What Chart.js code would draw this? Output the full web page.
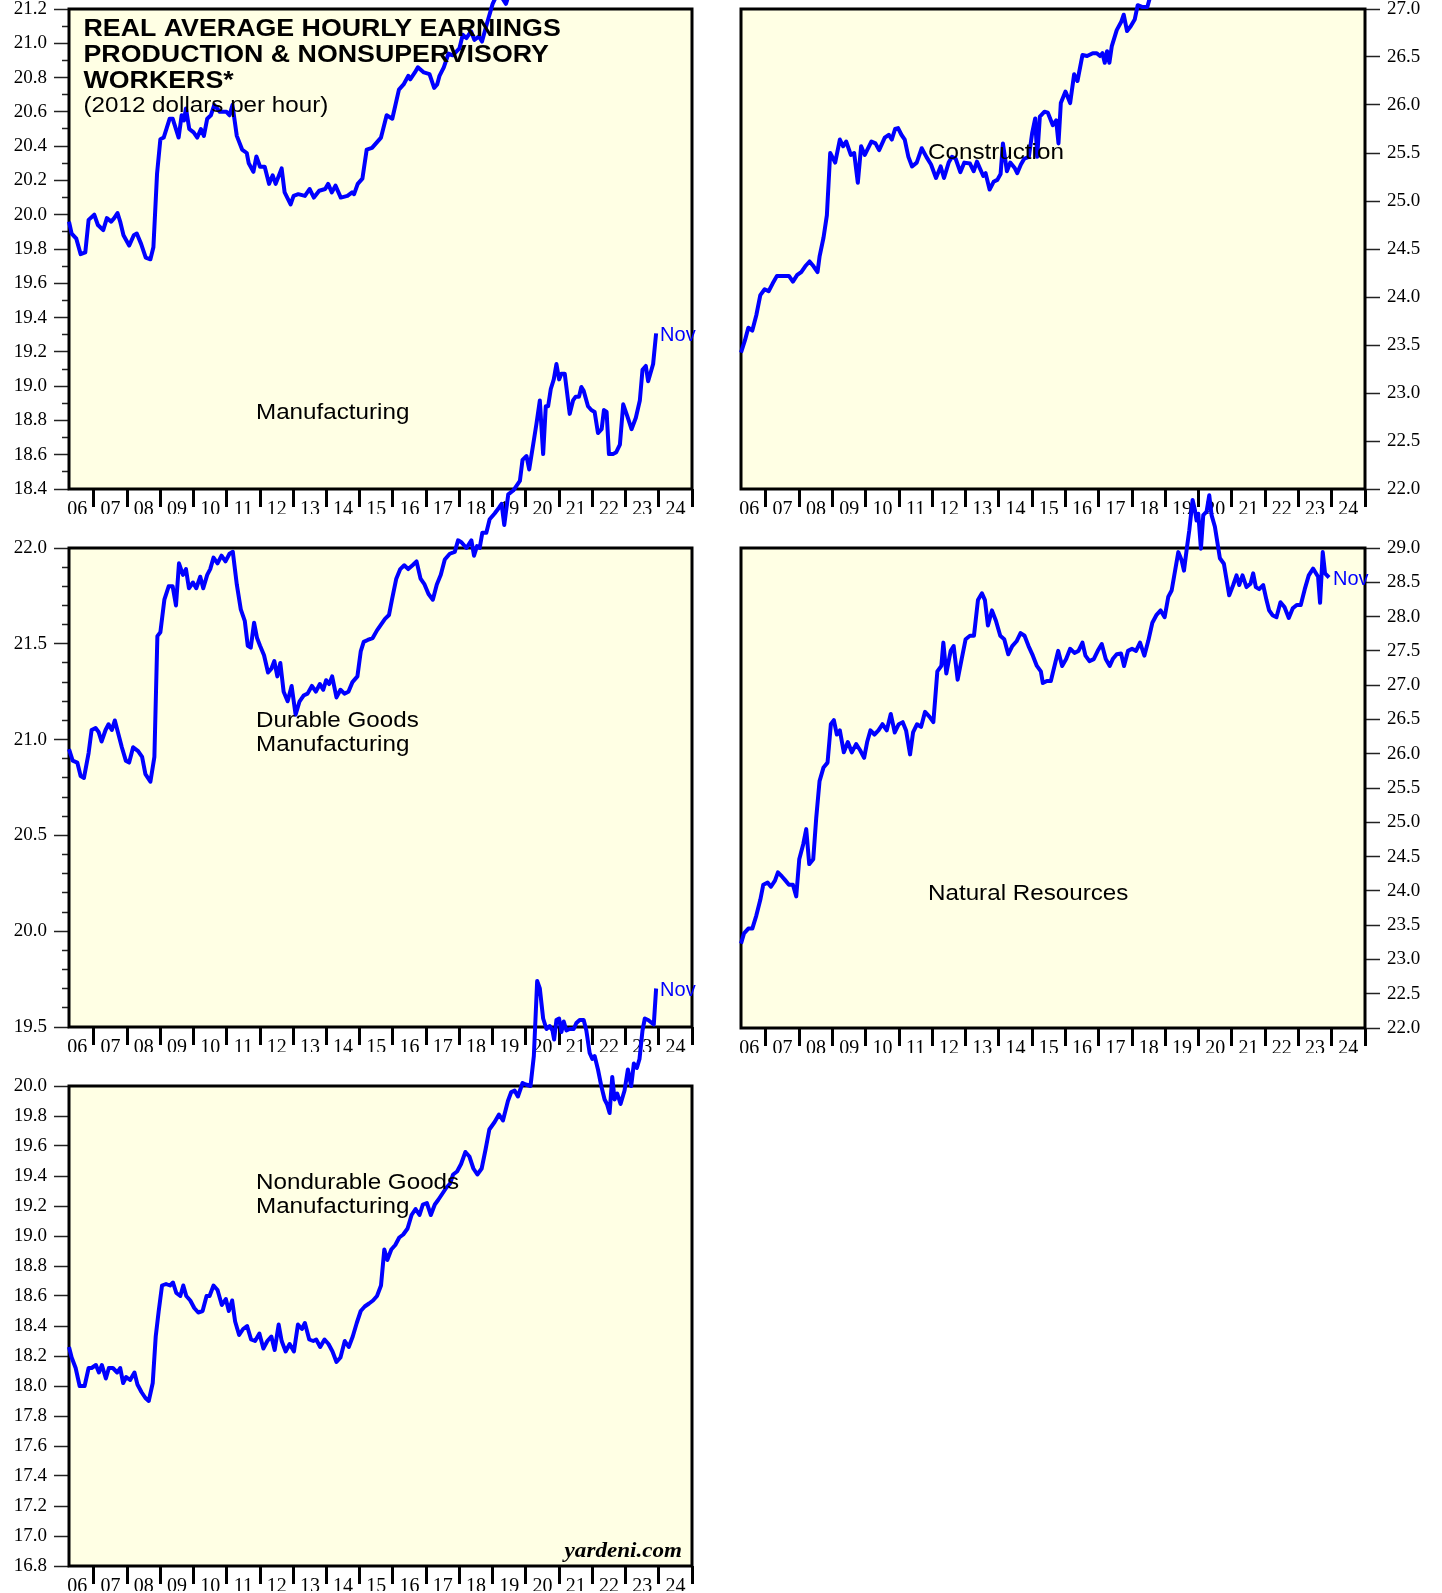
<!DOCTYPE html>
<html>
<head>
<meta charset="utf-8">
<script src="https://cdn.jsdelivr.net/npm/chart.js"></script>
<style>
  html, body { margin: 0; padding: 0; background: #fff; }
  #page { position: relative; width: 1442px; height: 1593px; overflow: hidden; }
  #page canvas { position: absolute; left: 0; top: 0; }
</style>
</head>
<body>
<div id="page">
  <canvas id="mfg" width="1442" height="1593"></canvas>
  <canvas id="con" width="1442" height="1593"></canvas>
  <canvas id="dur" width="1442" height="1593"></canvas>
  <canvas id="nat" width="1442" height="1593"></canvas>
  <canvas id="non" width="1442" height="1593"></canvas>
</div>
<script>
// year labels on the time axis (06 .. 24), monthly data from Mar 2006 to Nov 2023
const labelYears = [2006, 2007, 2008, 2009, 2010, 2011, 2012, 2013, 2014, 2015,
  2016, 2017, 2018, 2019, 2020, 2021, 2022, 2023, 2024];
const X_MIN = 2006.25;
const X_MAX = 2025;
const lastMonth = 'Nov';

// [year, 2012 dollars per hour]
const manufacturing = [
  [2006.25,19.96],[2006.33,19.89],[2006.47,19.86],[2006.60,19.77],[2006.74,19.78],[2006.84,19.97],
  [2007.01,20.00],[2007.12,19.94],[2007.28,19.91],[2007.39,19.98],[2007.52,19.96],[2007.61,19.98],
  [2007.71,20.01],[2007.79,19.96],[2007.89,19.88],[2008.06,19.82],[2008.20,19.88],[2008.29,19.89],
  [2008.42,19.83],[2008.56,19.75],[2008.70,19.74],[2008.79,19.81],[2008.90,20.24],[2009.00,20.44],
  [2009.10,20.45],[2009.28,20.56],[2009.37,20.56],[2009.55,20.45],[2009.64,20.58],[2009.71,20.55],
  [2009.77,20.62],[2009.87,20.50],[2010.00,20.48],[2010.11,20.45],[2010.22,20.50],[2010.31,20.46],
  [2010.41,20.56],[2010.52,20.58],[2010.62,20.64],[2010.79,20.60],[2010.99,20.60],[2011.08,20.58],
  [2011.17,20.64],[2011.30,20.46],[2011.46,20.38],[2011.60,20.36],[2011.66,20.30],[2011.80,20.25],
  [2011.89,20.34],[2012.00,20.28],[2012.14,20.28],[2012.27,20.18],[2012.38,20.23],[2012.47,20.18],
  [2012.65,20.27],[2012.74,20.13],[2012.92,20.06],[2013.01,20.11],[2013.15,20.12],[2013.35,20.11],
  [2013.49,20.15],[2013.62,20.10],[2013.78,20.14],[2013.96,20.15],[2014.05,20.18],[2014.16,20.13],
  [2014.27,20.17],[2014.43,20.10],[2014.63,20.11],[2014.77,20.13],[2014.83,20.12],[2014.94,20.18],
  [2015.08,20.21],[2015.21,20.38],[2015.37,20.39],[2015.64,20.45],[2015.81,20.58],[2015.98,20.56],
  [2016.18,20.73],[2016.32,20.76],[2016.46,20.81],[2016.52,20.79],[2016.66,20.83],[2016.75,20.86],
  [2016.93,20.83],[2017.10,20.82],[2017.24,20.74],[2017.33,20.76],[2017.40,20.81],[2017.53,20.86],
  [2017.67,20.94],[2017.80,20.93],[2018.00,20.97],[2018.10,21.05],[2018.21,21.03],[2018.35,21.07],
  [2018.45,21.02],[2018.59,21.04],[2018.68,21.01],[2018.82,21.11],[2019.00,21.23],[2019.17,21.30],
  [2019.40,21.23],[2019.55,21.32],[2019.75,21.36],[2020.00,21.40],[2020.33,21.90],[2020.50,21.75],
  [2020.75,21.60],[2021.00,21.65],[2021.50,21.50],[2022.00,21.40],[2022.50,21.35],[2023.00,21.45],
  [2023.50,21.55],[2023.92,21.70]
];

const construction = [
  [2006.25,23.42],[2006.37,23.55],[2006.47,23.68],[2006.59,23.65],[2006.71,23.81],[2006.83,24.02],
  [2006.96,24.08],[2007.08,24.06],[2007.20,24.14],[2007.33,24.22],[2007.51,24.22],[2007.69,24.22],
  [2007.81,24.16],[2007.94,24.23],[2008.06,24.26],[2008.18,24.32],[2008.31,24.37],[2008.43,24.32],
  [2008.55,24.26],[2008.61,24.42],[2008.73,24.62],[2008.83,24.85],[2008.93,25.50],[2009.08,25.40],
  [2009.22,25.64],[2009.32,25.57],[2009.41,25.62],[2009.55,25.48],[2009.65,25.50],[2009.76,25.19],
  [2009.86,25.57],[2009.97,25.48],[2010.17,25.62],[2010.29,25.60],[2010.40,25.53],[2010.57,25.66],
  [2010.69,25.69],[2010.78,25.64],[2010.88,25.75],[2010.97,25.76],[2011.07,25.69],[2011.17,25.64],
  [2011.28,25.46],[2011.39,25.36],[2011.53,25.40],[2011.68,25.55],[2011.82,25.46],[2011.96,25.38],
  [2012.11,25.24],[2012.25,25.36],[2012.35,25.24],[2012.49,25.40],[2012.59,25.46],[2012.70,25.44],
  [2012.84,25.30],[2012.96,25.40],[2013.13,25.39],[2013.24,25.31],[2013.34,25.41],[2013.44,25.33],
  [2013.53,25.26],[2013.60,25.29],[2013.72,25.12],[2013.84,25.20],[2013.95,25.22],[2014.05,25.28],
  [2014.12,25.60],[2014.24,25.31],[2014.34,25.40],[2014.48,25.34],[2014.55,25.29],[2014.66,25.38],
  [2014.76,25.44],[2014.90,25.46],[2015.00,25.71],[2015.09,25.86],[2015.15,25.46],[2015.23,25.88],
  [2015.37,25.93],[2015.47,25.92],[2015.62,25.79],[2015.72,25.84],[2015.79,25.60],[2015.86,26.02],
  [2016.00,26.14],[2016.14,26.02],[2016.26,26.32],[2016.36,26.25],[2016.51,26.52],[2016.65,26.51],
  [2016.82,26.54],[2016.94,26.54],[2017.04,26.51],[2017.11,26.54],[2017.18,26.44],[2017.25,26.56],
  [2017.32,26.44],[2017.39,26.61],[2017.54,26.78],[2017.68,26.87],[2017.75,26.94],[2017.85,26.77],
  [2017.96,26.82],[2018.08,26.89],[2018.17,27.04],[2018.32,27.02],[2018.46,27.02],[2018.60,27.20],
  [2019.00,27.35],[2019.50,27.50],[2020.00,27.60],[2020.33,28.60],[2020.60,28.00],[2021.00,27.90],
  [2021.50,27.60],[2022.00,27.40],[2022.50,27.30],[2023.00,27.50],[2023.50,27.70],[2023.92,27.90]
];

const durableGoods = [
  [2006.25,20.95],[2006.36,20.89],[2006.50,20.88],[2006.60,20.81],[2006.70,20.80],[2006.84,20.93],
  [2006.93,21.05],[2007.05,21.06],[2007.14,21.04],[2007.23,20.99],[2007.35,21.05],[2007.44,21.08],
  [2007.54,21.05],[2007.63,21.10],[2007.72,21.04],[2007.84,20.96],[2007.96,20.89],[2008.06,20.88],
  [2008.18,20.96],[2008.33,20.94],[2008.45,20.91],[2008.55,20.82],[2008.70,20.78],[2008.82,20.91],
  [2008.91,21.54],[2009.00,21.56],[2009.12,21.73],[2009.25,21.80],[2009.37,21.80],[2009.47,21.70],
  [2009.56,21.92],[2009.68,21.86],[2009.77,21.89],[2009.86,21.79],[2009.98,21.82],[2010.08,21.79],
  [2010.20,21.85],[2010.29,21.79],[2010.41,21.86],[2010.50,21.89],[2010.60,21.95],[2010.72,21.92],
  [2010.84,21.96],[2010.96,21.93],[2011.08,21.97],[2011.18,21.98],[2011.30,21.81],[2011.42,21.68],
  [2011.54,21.62],[2011.63,21.49],[2011.72,21.48],[2011.82,21.61],[2011.91,21.53],[2012.00,21.49],
  [2012.12,21.44],[2012.24,21.35],[2012.34,21.37],[2012.43,21.41],[2012.52,21.33],[2012.61,21.40],
  [2012.71,21.25],[2012.83,21.20],[2012.95,21.28],[2013.07,21.13],[2013.19,21.20],[2013.31,21.23],
  [2013.43,21.24],[2013.56,21.28],[2013.68,21.25],[2013.80,21.29],[2013.90,21.26],[2013.99,21.31],
  [2014.08,21.29],[2014.17,21.33],[2014.30,21.22],[2014.42,21.26],[2014.54,21.24],[2014.66,21.25],
  [2014.78,21.30],[2014.93,21.33],[2015.03,21.46],[2015.12,21.51],[2015.24,21.52],[2015.39,21.53],
  [2015.52,21.57],[2015.64,21.60],[2015.76,21.63],[2015.88,21.65],[2015.97,21.73],[2016.10,21.84],
  [2016.22,21.89],[2016.34,21.91],[2016.46,21.89],[2016.59,21.91],[2016.71,21.93],[2016.83,21.84],
  [2016.95,21.81],[2017.07,21.76],[2017.20,21.73],[2017.32,21.81],[2017.44,21.86],[2017.56,21.94],
  [2017.71,21.97],[2017.86,21.98],[2017.96,22.04],[2018.06,22.03],[2018.21,22.00],[2018.36,22.04],
  [2018.44,21.96],[2018.53,22.01],[2018.61,22.00],[2018.69,22.08],[2018.81,22.08],[2018.91,22.15],
  [2019.06,22.18],[2019.19,22.21],[2019.27,22.23],[2019.35,22.12],[2019.47,22.28],[2019.62,22.30],
  [2019.82,22.35],[2019.90,22.46],[2020.02,22.48],[2020.10,22.41],[2020.22,22.54],[2020.32,22.65],
  [2020.42,22.77],[2020.52,22.49],[2020.60,22.74],[2020.67,22.74],[2020.75,22.83],[2020.84,22.88],
  [2020.92,22.96],[2021.00,22.88],[2021.07,22.91],[2021.17,22.91],[2021.32,22.70],[2021.42,22.77],
  [2021.50,22.79],[2021.60,22.79],[2021.67,22.84],[2021.74,22.82],[2021.87,22.74],[2021.97,22.72],
  [2022.07,22.71],[2022.17,22.60],[2022.28,22.62],[2022.35,22.72],[2022.43,22.71],[2022.50,22.49],
  [2022.62,22.49],[2022.72,22.50],[2022.83,22.54],[2022.93,22.75],[2023.05,22.69],[2023.18,22.62],
  [2023.31,22.68],[2023.43,22.77],[2023.51,22.93],[2023.61,22.95],[2023.68,22.87],[2023.83,22.96],
  [2023.92,23.12]
];

const naturalResources = [
  [2006.25,23.23],[2006.34,23.38],[2006.47,23.45],[2006.59,23.45],[2006.71,23.64],[2006.83,23.87],
  [2006.92,24.09],[2007.05,24.12],[2007.15,24.06],[2007.27,24.15],[2007.36,24.27],[2007.48,24.21],
  [2007.57,24.16],[2007.69,24.09],[2007.81,24.09],[2007.91,23.92],[2008.00,24.46],[2008.12,24.68],
  [2008.21,24.90],[2008.30,24.39],[2008.42,24.46],[2008.51,25.06],[2008.61,25.60],[2008.73,25.80],
  [2008.85,25.87],[2008.95,26.43],[2009.04,26.49],[2009.13,26.28],[2009.22,26.34],[2009.34,26.02],
  [2009.46,26.17],[2009.58,26.02],[2009.71,26.14],[2009.83,26.05],[2009.95,25.94],[2010.04,26.17],
  [2010.14,26.34],[2010.26,26.28],[2010.38,26.34],[2010.50,26.43],[2010.63,26.34],[2010.75,26.58],
  [2010.87,26.31],[2010.99,26.43],[2011.11,26.46],[2011.21,26.34],[2011.33,25.99],[2011.42,26.31],
  [2011.54,26.43],[2011.66,26.39],[2011.78,26.61],[2011.91,26.54],[2012.03,26.46],[2012.15,27.20],
  [2012.27,27.28],[2012.33,27.62],[2012.42,27.17],[2012.55,27.50],[2012.64,27.57],[2012.76,27.08],
  [2012.88,27.38],[2013.00,27.67],[2013.13,27.72],[2013.25,27.72],[2013.37,28.24],[2013.49,28.34],
  [2013.58,28.24],[2013.67,27.87],[2013.79,28.09],[2013.91,27.94],[2014.04,27.72],[2014.16,27.67],
  [2014.28,27.45],[2014.40,27.57],[2014.53,27.64],[2014.65,27.76],[2014.77,27.72],[2014.89,27.57],
  [2015.02,27.43],[2015.14,27.28],[2015.26,27.20],[2015.32,27.03],[2015.44,27.06],[2015.56,27.06],
  [2015.69,27.32],[2015.78,27.50],[2015.90,27.28],[2016.02,27.38],[2016.14,27.53],[2016.27,27.47],
  [2016.39,27.50],[2016.51,27.62],[2016.60,27.43],[2016.72,27.35],[2016.85,27.38],[2016.97,27.50],
  [2017.09,27.60],[2017.21,27.38],[2017.33,27.28],[2017.42,27.38],[2017.54,27.45],[2017.67,27.46],
  [2017.76,27.28],[2017.88,27.50],[2018.00,27.53],[2018.12,27.50],[2018.24,27.62],[2018.37,27.43],
  [2018.49,27.65],[2018.61,27.91],[2018.73,28.02],[2018.86,28.09],[2018.98,27.99],[2019.09,28.29],
  [2019.19,28.38],[2019.39,28.94],[2019.49,28.82],[2019.56,28.67],[2019.64,28.97],[2019.72,29.26],
  [2019.82,29.70],[2019.89,29.55],[2019.94,29.40],[2019.99,29.50],[2020.07,28.99],[2020.14,29.48],
  [2020.24,29.53],[2020.32,29.77],[2020.39,29.48],[2020.49,29.31],[2020.64,28.85],[2020.76,28.77],
  [2020.92,28.31],[2021.04,28.46],[2021.14,28.60],[2021.22,28.46],[2021.32,28.60],[2021.44,28.43],
  [2021.56,28.48],[2021.64,28.63],[2021.72,28.43],[2021.82,28.40],[2021.94,28.46],[2022.04,28.24],
  [2022.12,28.09],[2022.22,28.02],[2022.34,27.99],[2022.46,28.21],[2022.58,28.14],[2022.71,27.98],
  [2022.83,28.12],[2022.95,28.17],[2023.07,28.17],[2023.19,28.40],[2023.31,28.60],[2023.44,28.70],
  [2023.59,28.58],[2023.65,28.20],[2023.73,28.94],[2023.80,28.63],[2023.92,28.57]
];

const nondurableGoods = [
  [2006.25,18.26],[2006.33,18.19],[2006.45,18.12],[2006.57,18.00],[2006.72,18.00],[2006.84,18.12],
  [2006.93,18.12],[2007.06,18.14],[2007.15,18.09],[2007.24,18.14],[2007.36,18.05],[2007.45,18.12],
  [2007.57,18.12],[2007.70,18.09],[2007.79,18.12],[2007.88,18.02],[2007.97,18.06],[2008.09,18.04],
  [2008.22,18.09],[2008.31,18.01],[2008.43,17.96],[2008.55,17.92],[2008.65,17.90],[2008.77,18.02],
  [2008.86,18.33],[2008.95,18.50],[2009.05,18.67],[2009.17,18.68],[2009.29,18.67],[2009.38,18.69],
  [2009.48,18.62],[2009.60,18.60],[2009.69,18.67],[2009.78,18.60],[2009.90,18.57],[2010.02,18.52],
  [2010.14,18.49],[2010.27,18.50],[2010.39,18.60],[2010.48,18.60],[2010.60,18.67],[2010.72,18.64],
  [2010.85,18.54],[2010.97,18.58],[2011.06,18.50],[2011.16,18.57],[2011.25,18.43],[2011.37,18.34],
  [2011.49,18.38],[2011.61,18.40],[2011.73,18.31],[2011.85,18.30],[2011.98,18.35],[2012.10,18.25],
  [2012.22,18.30],[2012.34,18.33],[2012.44,18.24],[2012.56,18.41],[2012.65,18.30],[2012.77,18.23],
  [2012.89,18.28],[2013.02,18.23],[2013.14,18.41],[2013.26,18.38],[2013.35,18.42],[2013.48,18.31],
  [2013.60,18.30],[2013.69,18.31],[2013.81,18.26],[2013.94,18.31],[2014.06,18.28],[2014.18,18.23],
  [2014.30,18.16],[2014.42,18.19],[2014.55,18.30],[2014.67,18.26],[2014.79,18.33],[2014.91,18.42],
  [2015.03,18.50],[2015.15,18.53],[2015.28,18.55],[2015.40,18.57],[2015.52,18.60],[2015.64,18.67],
  [2015.74,18.91],[2015.83,18.84],[2015.95,18.91],[2016.07,18.94],[2016.19,18.99],[2016.31,19.01],
  [2016.44,19.05],[2016.56,19.14],[2016.68,19.18],[2016.80,19.14],[2016.90,19.21],[2017.02,19.22],
  [2017.14,19.14],[2017.26,19.21],[2017.36,19.24],[2017.48,19.28],[2017.60,19.32],[2017.72,19.35],
  [2017.81,19.41],[2017.93,19.43],[2018.05,19.48],[2018.18,19.56],[2018.30,19.53],[2018.42,19.45],
  [2018.54,19.41],[2018.67,19.45],[2018.79,19.58],[2018.90,19.71],[2019.06,19.76],[2019.19,19.81],
  [2019.31,19.77],[2019.46,19.90],[2019.56,19.96],[2019.66,19.97],[2019.76,19.93],[2019.90,20.02],
  [2020.00,20.01],[2020.14,20.00],[2020.24,20.20],[2020.34,20.70],[2020.42,20.65],[2020.52,20.45],
  [2020.62,20.38],[2020.72,20.40],[2020.80,20.37],[2020.85,20.31],[2020.92,20.44],[2021.00,20.45],
  [2021.07,20.36],[2021.14,20.43],[2021.22,20.37],[2021.32,20.38],[2021.44,20.38],[2021.52,20.42],
  [2021.62,20.44],[2021.74,20.44],[2021.82,20.37],[2021.92,20.22],[2022.00,20.18],[2022.07,20.20],
  [2022.17,20.11],[2022.27,20.00],[2022.37,19.91],[2022.44,19.88],[2022.52,19.82],[2022.60,20.06],
  [2022.67,19.91],[2022.75,19.95],[2022.85,19.88],[2022.97,19.97],[2023.07,20.11],[2023.17,20.00],
  [2023.25,20.15],[2023.34,20.12],[2023.42,20.18],[2023.51,20.37],[2023.58,20.45],[2023.68,20.44],
  [2023.85,20.41],[2023.92,20.65]
];

const PAGE_W = 1442, PAGE_H = 1593;
const Y_AXIS_W = 60, X_AXIS_H = 25;
const SANS = '"Liberation Sans", Arial, sans-serif';
const SERIF = '"Liberation Serif", "Times New Roman", serif';

// one tick per year boundary (drawn), one per mid-year (label only)
function yearTicks(scale) {
  const ticks = [];
  labelYears.forEach(y => {
    ticks.push({value: y + 0.5});
    if (y + 1 <= X_MAX) ticks.push({value: y + 1});
  });
  scale.ticks = ticks;
}

function onStep(v, step) {
  return Math.abs(v / step - Math.round(v / step)) < 1e-6;
}

function drawText(ctx, t) {
  ctx.save();
  ctx.translate(t.x, t.y);
  ctx.scale(t.sx || 1, 1);
  ctx.font = t.font;
  ctx.fillStyle = t.color || '#000';
  ctx.textAlign = t.align || 'left';
  ctx.textBaseline = t.baseline || 'middle';
  ctx.fillText(t.t, 0, 0);
  ctx.restore();
}

const panelDecor = {
  id: 'panelDecor',
  beforeDraw(chart) {
    const {ctx, chartArea: a} = chart;
    ctx.save();
    ctx.fillStyle = '#ffffe4';
    ctx.fillRect(a.left, a.top, a.right - a.left, a.bottom - a.top);
    ctx.restore();
  },
  beforeDatasetsDraw(chart) {
    const {ctx, chartArea: a} = chart;
    ctx.save();
    ctx.lineWidth = 3;
    ctx.strokeStyle = '#000';
    ctx.strokeRect(a.left, a.top, a.right - a.left, a.bottom - a.top);
    ctx.restore();
  },
  afterDatasetsDraw(chart, args, opts) {
    const ctx = chart.ctx;
    (opts.texts || []).forEach(t => drawText(ctx, t));
    const pts = chart.getDatasetMeta(0).data;
    const last = pts[pts.length - 1];
    if (last) {
      drawText(ctx, {t: lastMonth, x: last.x + 4, y: last.y + 2,
        font: '20px ' + SANS, color: '#0000ff'});
    }
  }
};

function makeChart(p) {
  const left = p.side === 'left';
  const a = p.area;
  return new Chart(document.getElementById(p.id), {
    type: 'line',
    data: {
      datasets: [{
        data: p.series.map(([x, y]) => ({x, y})),
        borderColor: '#0000ff',
        borderWidth: 4,
        pointRadius: 0,
        tension: 0,
        clip: false,
        borderJoinStyle: 'round'
      }]
    },
    plugins: [panelDecor],
    options: {
      responsive: false,
      animation: false,
      devicePixelRatio: 1,
      events: [],
      layout: {
        autoPadding: false,
        padding: {
          left: left ? a.left - Y_AXIS_W : a.left,
          right: left ? PAGE_W - a.right : PAGE_W - a.right - Y_AXIS_W,
          top: a.top,
          bottom: PAGE_H - a.bottom - X_AXIS_H
        }
      },
      plugins: {
        legend: {display: false},
        tooltip: {enabled: false},
        panelDecor: {texts: p.texts}
      },
      scales: {
        x: {
          type: 'linear',
          position: 'bottom',
          min: X_MIN,
          max: X_MAX,
          afterBuildTicks: yearTicks,
          afterFit: s => { s.height = X_AXIS_H; s.paddingLeft = 0; s.paddingRight = 0; },
          border: {display: false},
          grid: {
            drawOnChartArea: false,
            tickLength: 18,
            tickWidth: 3,
            tickColor: c => (c.tick && onStep(c.tick.value, 1)) ? '#000' : 'rgba(0,0,0,0)'
          },
          ticks: {
            autoSkip: false,
            maxRotation: 0,
            padding: -9,
            color: '#000',
            font: {family: SERIF, size: 20},
            callback: v => onStep(v, 1) ? '' : String(Math.floor(v) % 100).padStart(2, '0')
          }
        },
        y: {
          type: 'linear',
          position: p.side,
          min: p.min,
          max: p.max,
          afterFit: s => { s.width = Y_AXIS_W; s.paddingTop = 0; s.paddingBottom = 0; },
          border: {display: false},
          grid: {
            drawOnChartArea: false,
            tickLength: 15,
            tickWidth: 1.5,
            tickColor: '#222',
            tickBorderDash: c => (c.tick && !onStep(c.tick.value, p.major)) ? [0, 8, 7, 20] : []
          },
          ticks: {
            stepSize: p.step,
            maxTicksLimit: 100,
            autoSkip: false,
            padding: 7,
            color: '#000',
            font: {family: SERIF, size: 19},
            callback: v => onStep(v, p.major) ? v.toFixed(1) : ''
          }
        }
      }
    }
  });
}

const labelFont = '22px ' + SANS;
const titleFont = 'bold 24px ' + SANS;
const panels = [
  {id: 'mfg', series: manufacturing, side: 'left', min: 18.4, max: 21.2, step: 0.1, major: 0.2,
    area: {left: 69, top: 9, right: 692, bottom: 489},
    texts: [
      {t: 'REAL AVERAGE HOURLY EARNINGS', x: 83.5, y: 29, font: titleFont, sx: 1.115},
      {t: 'PRODUCTION & NONSUPERVISORY', x: 83.5, y: 55, font: titleFont, sx: 1.115},
      {t: 'WORKERS*', x: 83.5, y: 81.5, font: titleFont, sx: 1.115},
      {t: '(2012 dollars per hour)', x: 83.5, y: 105.5, font: labelFont, sx: 1.1},
      {t: 'Manufacturing', x: 256, y: 413, font: labelFont, sx: 1.1}
    ]},
  {id: 'con', series: construction, side: 'right', min: 22, max: 27, step: 0.5, major: 0.5,
    area: {left: 741, top: 9, right: 1365, bottom: 489},
    texts: [
      {t: 'Construction', x: 928, y: 153, font: labelFont, sx: 1.1}
    ]},
  {id: 'dur', series: durableGoods, side: 'left', min: 19.5, max: 22, step: 0.1, major: 0.5,
    area: {left: 69, top: 548, right: 692, bottom: 1027},
    texts: [
      {t: 'Durable Goods', x: 256, y: 720.5, font: labelFont, sx: 1.1},
      {t: 'Manufacturing', x: 256, y: 745, font: labelFont, sx: 1.1}
    ]},
  {id: 'nat', series: naturalResources, side: 'right', min: 22, max: 29, step: 0.5, major: 0.5,
    area: {left: 741, top: 548, right: 1365, bottom: 1028},
    texts: [
      {t: 'Natural Resources', x: 928, y: 894, font: labelFont, sx: 1.1}
    ]},
  {id: 'non', series: nondurableGoods, side: 'left', min: 16.8, max: 20, step: 0.2, major: 0.2,
    area: {left: 69, top: 1086, right: 692, bottom: 1566},
    texts: [
      {t: 'Nondurable Goods', x: 256, y: 1183, font: labelFont, sx: 1.1},
      {t: 'Manufacturing', x: 256, y: 1207, font: labelFont, sx: 1.1},
      {t: 'yardeni.com', x: 682, y: 1557, font: 'bold italic 21px ' + SERIF, sx: 1.1,
        align: 'right', baseline: 'alphabetic'}
    ]}
];

panels.forEach(makeChart);
</script>
</body>
</html>
